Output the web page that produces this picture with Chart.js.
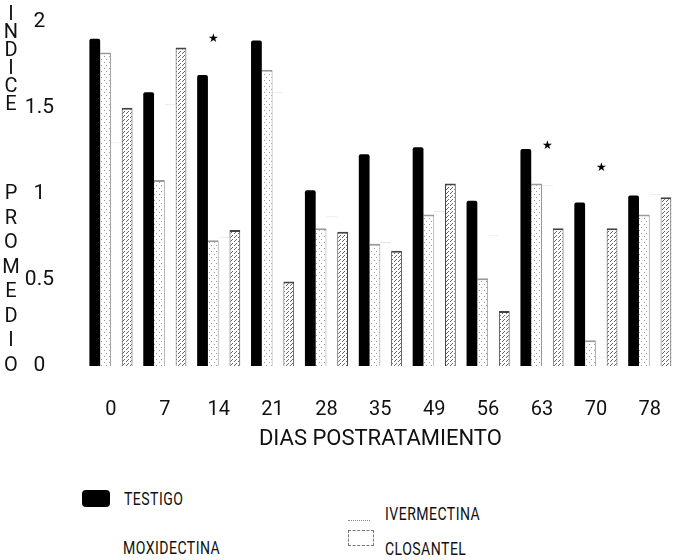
<!DOCTYPE html>
<html>
<head>
<meta charset="utf-8">
<script src="https://cdn.jsdelivr.net/npm/chart.js@4.4.1/dist/chart.umd.min.js"></script>
<style>
  body { margin: 0; background: #fff; }
  #wrap { position: relative; width: 693px; height: 560px; overflow: hidden; font-family: Roboto, 'Liberation Sans', sans-serif; color: #111; }
  #chart { position: absolute; left: 0; top: -21px; }
  .ytitle { position: absolute; left: 0; width: 22px; text-align: center; font-size: 20px; }
  .ytitle span { display: block; }
  .leg { position: absolute; font-size: 18px; letter-spacing: 0.6px; transform: scaleX(0.78); transform-origin: left center; white-space: nowrap; }
  .sw { position: absolute; }
</style>
</head>
<body>
<div id="wrap">
  <canvas id="chart" width="693" height="491"></canvas>
  <div class="ytitle" id="yt1" style="top:4px; line-height:18px;"></div>
  <div class="ytitle" id="yt2" style="top:180px; line-height:24.5px;"></div>
  <div id="legend"></div>
</div>
<script>
// dias postratamiento
const days = ['0', '7', '14', '21', '28', '35', '49', '56', '63', '70', '78'];
const seriesNames = ['TESTIGO', 'IVERMECTINA', 'MOXIDECTINA', 'CLOSANTEL'];

// indice promedio
const testigo     = [1.90, 1.59, 1.69, 1.89, 1.02, 1.23, 1.27, 0.96, 1.26, 0.95, 0.99];
const ivermectina = [1.82, 1.08, 0.73, 1.72, 0.80, 0.71, 0.88, 0.51, 1.06, 0.15, 0.88];
const moxidectina = [1.30, 1.52, 0.75, 1.59, 0.87, 0.72, 0.90, 0.76, 1.05, 0.05, 1.00];
const closantel   = [1.50, 1.85, 0.79, 0.49, 0.78, 0.67, 1.06, 0.32, 0.80, 0.80, 0.98];

const yTicks = [0, 0.5, 1, 1.5, 2];

// asteriscos de significancia
const starDays   = ['14', '63', '70'];
const starSeries = [1, 2, 2];
const starLevel  = [1.90, 1.28, 1.15];

const yTitleTop = 'INDICE';
const yTitleBottom = 'PROMEDIO';
const xTitle = 'DIAS POSTRATAMIENTO';

function dotPattern(w, h, dots, color) {
    const c = document.createElement('canvas');
    c.width = w; c.height = h;
    const g = c.getContext('2d');
    g.fillStyle = '#fff';
    g.fillRect(0, 0, w, h);
    g.fillStyle = color;
    dots.forEach(function(d) { g.fillRect(d[0], d[1], 1, 1); });
    return g.createPattern(c, 'repeat');
}

const ivPattern = dotPattern(5, 6, [[1, 2], [4, 5]], '#999');
const clPattern = dotPattern(4, 4, [[0, 0], [2, 2], [3, 1]], '#666');

document.addEventListener("DOMContentLoaded", function() {
    // vertical axis title, one letter per line
    document.getElementById('yt1').innerHTML = yTitleTop.split('').map(ch => '<span>' + ch + '</span>').join('');
    document.getElementById('yt2').innerHTML = yTitleBottom.split('').map(ch => '<span>' + ch + '</span>').join('');

    // legend, two columns
    const legPos = [
        { sw: 'left:82px;top:490px;width:28px;height:17px;background:#000;border-radius:4px;', text: 'left:124px;top:488px;' },
        { sw: 'left:348px;top:512px;width:22px;height:8px;border-bottom:1px dotted #888;', text: 'left:385px;top:503px;' },
        { sw: '', text: 'left:123px;top:537px;' },
        { sw: 'left:348px;top:530px;width:24px;height:14px;border:1px dashed #777;', text: 'left:385px;top:538px;' }
    ];
    let html = '';
    seriesNames.forEach(function(name, i) {
        if (legPos[i].sw) html += '<div class="sw" style="' + legPos[i].sw + '"></div>';
        html += '<div class="leg" style="' + legPos[i].text + '">' + name + '</div>';
    });
    document.getElementById('legend').innerHTML = html;

    const starPlugin = {
        id: 'stars',
        afterDatasetsDraw(chart) {
            const ctx = chart.ctx;
            const y = chart.scales.y;
            ctx.save();
            ctx.fillStyle = '#000';
            ctx.font = '12px "DejaVu Sans"';
            ctx.textAlign = 'center';
            ctx.textBaseline = 'middle';
            starDays.forEach(function(d, i) {
                const bar = chart.getDatasetMeta(starSeries[i]).data[days.indexOf(d)];
                ctx.fillText('\u2605', bar.x, y.getPixelForValue(starLevel[i]));
            });
            ctx.restore();
        }
    };

    const font = "Roboto, 'Liberation Sans', sans-serif";

    const data = {
        labels: days,
        datasets: [
            { label: seriesNames[0], data: testigo, backgroundColor: '#000', borderWidth: 0, borderRadius: 2 },
            { label: seriesNames[1], data: ivermectina, backgroundColor: ivPattern, borderColor: '#999',
              borderWidth: { top: 2, right: 1, left: 0, bottom: 0 }, borderSkipped: 'start' },
            { label: seriesNames[2], data: moxidectina, backgroundColor: '#fff', borderColor: '#e4e4e4',
              borderWidth: { top: 1, right: 0, left: 0, bottom: 0 }, borderSkipped: 'start' },
            { label: seriesNames[3], data: closantel, backgroundColor: clPattern, borderColor: '#444',
              borderWidth: { top: 2, right: 1, left: 1, bottom: 0 }, borderSkipped: 'start' }
        ]
    };

    const options = {
        responsive: false,
        animation: false,
        layout: { padding: { left: 20, top: 0, right: 0, bottom: 14 } },
        datasets: { bar: { categoryPercentage: 0.8, barPercentage: 1.0 } },
        plugins: { legend: { display: false }, tooltip: { enabled: false } },
        scales: {
            x: {
                grid: { display: false, drawTicks: false },
                border: { display: false },
                ticks: { color: '#111', font: { family: font, size: 20 }, padding: 32 },
                title: { display: true, text: xTitle, color: '#111', font: { family: font, size: 22 }, padding: { top: 0, bottom: 3 } },
                afterFit(scale) { scale.height = 90; }
            },
            y: {
                min: 0,
                max: 2,
                grid: { display: false, drawTicks: false },
                border: { display: false },
                afterBuildTicks(scale) { scale.ticks = yTicks.map(v => ({ value: v })); },
                ticks: { color: '#111', font: { family: font, size: 21 }, padding: 30, crossAlign: 'center',
                         callback: v => String(v) },
                afterFit(scale) { scale.width = 64; }
            }
        }
    };

    const ctx = document.getElementById('chart').getContext('2d');
    new Chart(ctx, { type: 'bar', data: data, options: options, plugins: [starPlugin] });
});
</script>
</body>
</html>
